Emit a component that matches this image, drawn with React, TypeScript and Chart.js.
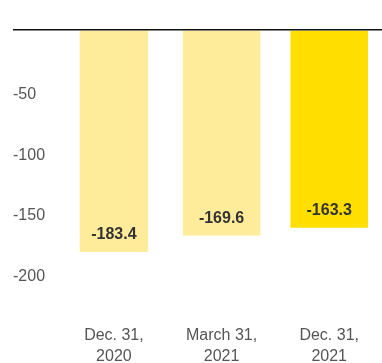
import React, { useEffect, useRef } from "react";
import { Chart, registerables } from "chart.js";

Chart.register(...registerables);

const categories: string[][] = [["Dec. 31,", "2020"], ["March 31,", "2021"], ["Dec. 31,", "2021"]];
const values: number[] = [-183.4, -169.6, -163.3];
const barColors: string[] = ["#FEEC9A", "#FEEC9A", "#FFDE00"];
const barWidthShares: number[] = [0.635, 0.72, 0.72];
const yTickValues: number[] = [-50, -100, -150, -200];
const yMin = -220;
const yMax = 0;

const FONT = "'Liberation Sans', Arial, Helvetica, sans-serif";

export default function App() {
  const ref = useRef<HTMLCanvasElement | null>(null);

  useEffect(() => {
    if (!ref.current) return;

    const overlay = {
      id: "overlay",
      afterDatasetsDraw(chart: any) {
        const { ctx } = chart;
        const ys = chart.scales.y;
        const zero = ys.getPixelForValue(0);
        ctx.save();
        ctx.strokeStyle = "#111";
        ctx.lineWidth = 1.5;
        ctx.beginPath();
        ctx.moveTo(13, zero - 0.75);
        ctx.lineTo(chart.width, zero - 0.75);
        ctx.stroke();
        ctx.font = `bold 16px ${FONT}`;
        ctx.fillStyle = "#333";
        ctx.textAlign = "center";
        ctx.textBaseline = "middle";
        values.forEach((v, i) => {
          const bar: any = chart.getDatasetMeta(i).data[i];
          if (bar) ctx.fillText(v.toFixed(1), bar.x, bar.y - 17);
        });
        ctx.restore();
      },
    };

    const datasets = values.map((_, k) => ({
      data: values.map((v, i) => (i === k ? v : null)),
      backgroundColor: barColors[k],
      borderWidth: 0,
      barPercentage: barWidthShares[k],
      categoryPercentage: 1,
    }));

    const chart = new Chart(ref.current, {
      type: "bar",
      data: { labels: categories, datasets },
      options: {
        animation: false,
        responsive: false,
        maintainAspectRatio: false,
        datasets: { bar: { grouped: false } },
        layout: { padding: { top: 30.5, left: 13, right: 0, bottom: 0 } },
        plugins: {
          legend: { display: false },
          tooltip: { enabled: false },
        },
        scales: {
          x: {
            grid: { display: false, drawTicks: false },
            border: { display: false },
            ticks: {
              color: "#555",
              font: { family: FONT, size: 16, lineHeight: 1.36 },
              padding: 28,
              maxRotation: 0,
              autoSkip: false,
            },
            afterFit(scale: any) {
              scale.height = 66.7;
            },
          },
          y: {
            min: yMin,
            max: yMax,
            grid: { display: false, drawTicks: false },
            border: { display: false },
            afterBuildTicks(scale: any) {
              scale.ticks = yTickValues.map((v) => ({ value: v }));
            },
            ticks: {
              color: "#555",
              font: { family: FONT, size: 16 },
              crossAlign: "far",
              labelOffset: 4,
              padding: 0,
            },
            afterFit(scale: any) {
              scale.width = 47.1;
            },
          },
        },
      } as any,
      plugins: [overlay],
    });

    return () => chart.destroy();
  }, []);

  return (
    <div style={{ position: "absolute", left: 0, top: 0, width: 382, height: 363, overflow: "hidden", background: "#fff" }}>
      <canvas ref={ref} width={387} height={363} style={{ display: "block", width: 387, height: 363 }} />
    </div>
  );
}
